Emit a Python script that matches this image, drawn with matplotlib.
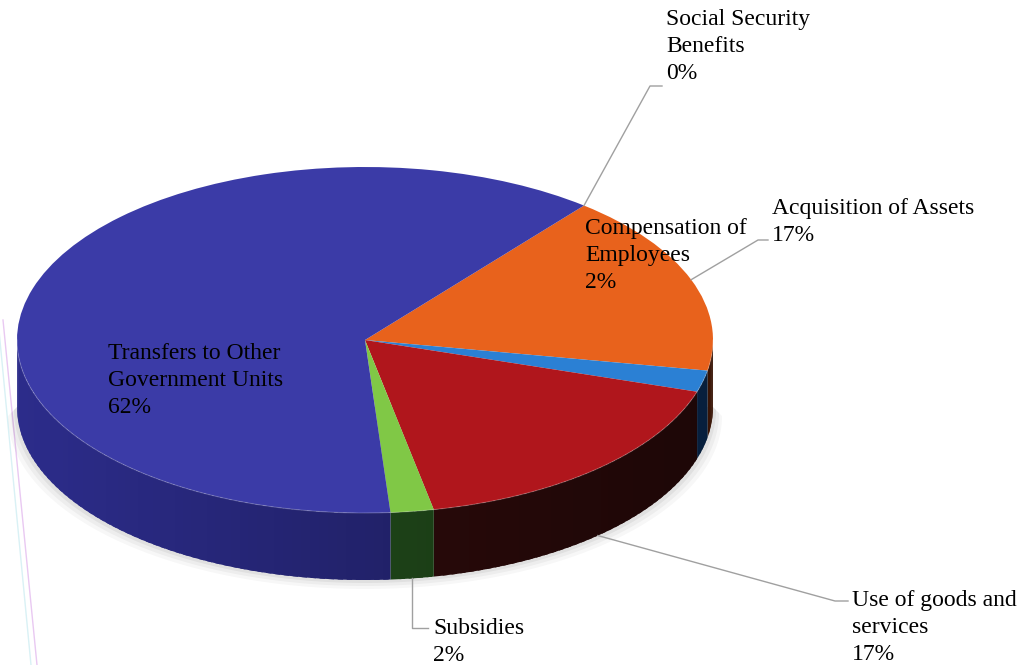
import numpy as np
import matplotlib
matplotlib.use('Agg')
import matplotlib.pyplot as plt
from matplotlib.colors import to_rgb

# Expenditure shares (%), listed clockwise from the top of the pie
categories = ['Social Security\nBenefits', 'Acquisition of Assets',
              'Compensation of\nEmployees', 'Use of goods and\nservices',
              'Subsidies', 'Transfers to Other\nGovernment Units']
shares = [0, 17, 2, 17, 2, 62]

top_colors = ['#8a8a8a', '#e8621c', '#2b80d4', '#b0161c', '#80c846', '#3b3ba7']
side_colors = ['#404040', '#5e2208', '#0c3364', '#300b0b', '#224e1c', '#28287e']

# pie geometry in pixels (centre, radii, thickness)
W, H = 1034, 665
CX, CY, RX, RY = 365, 340, 348, 173
DEPTH = 67 / RY


def px(x, y):
    """pixel position (from top-left) -> data coordinates"""
    return (x - CX) / RX, (CY - y) / RY


fig = plt.figure(figsize=(W / 100, H / 100), dpi=100)
ax = fig.add_axes([0, 0, 1, 1])

wedges, _ = ax.pie(shares, colors=top_colors, startangle=51, counterclock=False,
                   radius=1, wedgeprops=dict(linewidth=0, zorder=5))

ax.set_aspect('auto')
ax.set_xlim(-CX / RX, (W - CX) / RX)
ax.set_ylim((CY - H) / RY, CY / RY)
ax.axis('off')

# soft shadow under the front rim
t = np.radians(np.linspace(180, 360, 200))
for k, a in enumerate([0.05, 0.04, 0.03]):
    off = (k + 1) * 3 / RY
    ax.fill(np.concatenate([np.cos(t) * (1 + off * 0.5), [1, -1]]),
            np.concatenate([np.sin(t) - DEPTH - off, [-DEPTH, -DEPTH]]),
            color='black', alpha=a, lw=0, zorder=1)

# side walls of the visible (front) half, lit from the left
step = 1.5
for w, base in zip(wedges, side_colors):
    base = np.array(to_rgb(base))
    for k in (-1, 0, 1):
        lo = max(w.theta1, -180 + 360 * k)
        hi = min(w.theta2, 360 * k)
        if hi <= lo:
            continue
        edges = np.append(np.arange(lo, hi, step), hi)
        for a0, a1 in zip(edges[:-1], edges[1:]):
            # strips overlap a little so no seams show between them
            a_end = min(a1 + 0.6 * step, hi)
            aa = np.radians(np.linspace(a0, a_end, 4))
            xs = np.concatenate([np.cos(aa), np.cos(aa[::-1])])
            ys = np.concatenate([np.sin(aa), np.sin(aa[::-1]) - DEPTH])
            shade = 1.1 - 0.5 * (np.cos(np.radians((a0 + a1) / 2)) + 1) / 2
            c = np.clip(base * shade, 0, 1)
            ax.fill(xs, ys, color=c, lw=0, zorder=2)

# faint rim between top face and wall
ax.plot(np.cos(t), np.sin(t), color='white', lw=0.8, alpha=0.2, zorder=6)

label_kw = dict(fontsize=17, family='Liberation Serif', color='black',
                va='top', ha='left', linespacing=1.38, zorder=10)
lead_kw = dict(color='#a0a0a0', lw=1.0, zorder=8)


def mid_angle(w):
    return np.radians((w.theta1 + w.theta2) / 2)


labels = [f'{c}\n{s}%' for c, s in zip(categories, shares)]
ss, acq, comp, use, sub, trans = wedges

# Social Security Benefits: line from the wedge edge on top face
a = np.radians(ss.theta2)
ex, ey = px(650, 86)
fx, fy = px(662, 86)
ax.plot([np.cos(a), ex, fx], [np.sin(a), ey, fy], **lead_kw)
ax.text(*px(666, 9), labels[0], **label_kw)

# Acquisition of Assets
a = mid_angle(acq)
ex, ey = px(758, 240)
fx, fy = px(768, 240)
ax.plot([np.cos(a), ex, fx], [np.sin(a), ey, fy], **lead_kw)
ax.text(*px(772, 198), labels[1], **label_kw)

# Compensation of Employees, drawn on the top face
ax.text(*px(585, 218), labels[2], **label_kw)

# Use of goods and services, from the lower rim
a = mid_angle(use)
ex, ey = px(835, 601)
fx, fy = px(848, 601)
ax.plot([np.cos(a), ex, fx], [np.sin(a) - DEPTH, ey, fy], **lead_kw)
ax.text(*px(852, 590), labels[3], **label_kw)

# Subsidies
a = mid_angle(sub)
bx, by = np.cos(a), np.sin(a) - DEPTH
ex, ey = bx, px(0, 628)[1]
fx, fy = px(428, 628)
ax.plot([bx, ex, fx], [by, ey, fy], **lead_kw)
ax.text(*px(433, 618), labels[4], **label_kw)

# Transfers to Other Government Units
ax.text(*px(108, 343), labels[5], **label_kw)

# thin scan lines along the left margin
x0, y0 = px(3, 320)
x1, y1 = px(37, 665)
ax.plot([x0, x1], [y0, y1], color='#e9c9f2', lw=1.0, zorder=0)
x0, y0 = px(-2, 320)
x1, y1 = px(31, 665)
ax.plot([x0, x1], [y0, y1], color='#d9f1f5', lw=1.0, zorder=0)

fig.savefig('out.png', dpi=100)
